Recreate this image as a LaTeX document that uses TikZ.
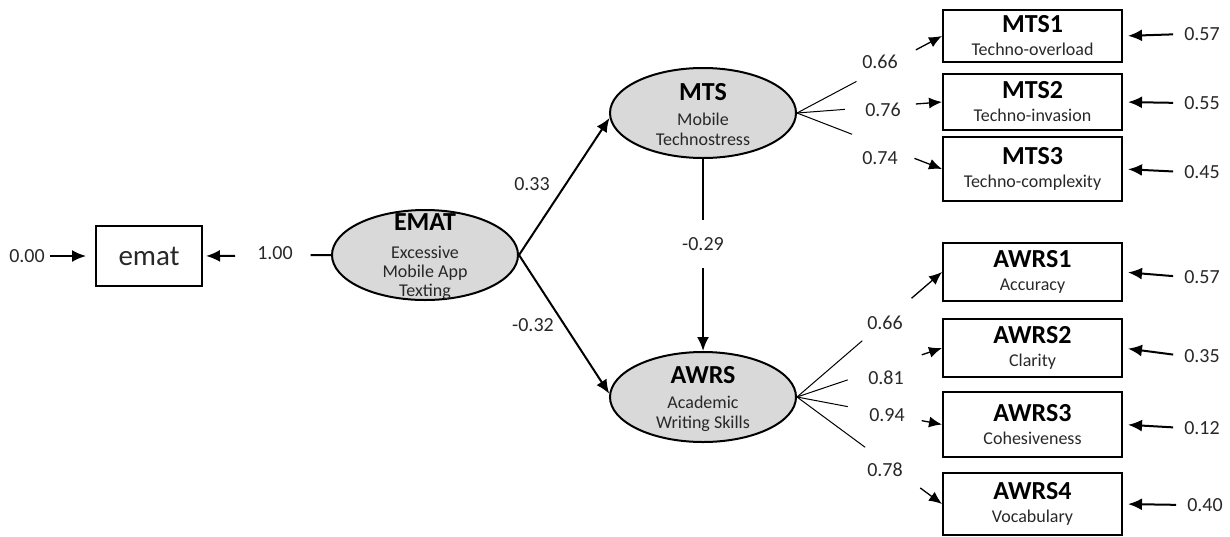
\documentclass[tikz,border=0pt]{standalone}
\usepackage{fontspec}
\setmainfont{Carlito}
\usetikzlibrary{arrows.meta,shapes.geometric}
\definecolor{txt}{RGB}{40,40,40}
\definecolor{ellfill}{RGB}{217,217,217}
\tikzset{
  num/.style={font=\fontsize{20}{20}\selectfont, text=txt, inner sep=0pt},
  lat/.style={ellipse, draw, line width=2pt, fill=ellfill, minimum width=186pt, minimum height=90pt, inner sep=0pt},
  lattext/.style={align=center, inner sep=0pt, text=txt},
  ind/.style={draw, line width=2pt, minimum width=179pt, inner sep=0pt, align=center, text=txt, font=\fontsize{18}{23}\selectfont},
  pth/.style={line width=2pt, -{Latex[length=14pt,width=12pt]}},
  load/.style={line width=1pt},
  loadarr/.style={line width=1.3pt, -{Latex[length=13pt,width=11pt]}},
  err/.style={line width=2pt, -{Latex[length=14pt,width=12pt]}, shorten <=11pt, shorten >=5pt},
}
\newcommand\ttl[1]{{\fontsize{26}{26}\selectfont\bfseries\color{black}#1}}
\newcommand\sbt[1]{{\fontsize{18}{18}\selectfont #1}}
\begin{document}
\begin{tikzpicture}[x=1pt,y=-1pt]
\useasboundingbox (0,0) rectangle (1230,536);

% observed EMAT indicator
\node[draw, line width=2pt, minimum width=106pt, minimum height=60pt, inner sep=0pt,
      font=\fontsize{29}{29}\selectfont, text=txt] (emat) at (149,256) {emat};
\node[num] (z0) at (27,256) {0.00};
\draw[pth, shorten <=5pt, shorten >=9pt] (z0.east) -- (emat.west);

% latent variables
\node[lat] (EMAT) at (425,255) {};
\node[lattext, font=\fontsize{18}{19}\selectfont] (EMATt) at (425,257) {\ttl{EMAT}\\[9pt]Excessive\\Mobile App\\Texting};
\node[lat] (MTS) at (703,113) {};
\node[lattext, font=\fontsize{18}{20}\selectfont] (MTSt) at (703,115) {\ttl{MTS}\\[5pt]Mobile\\Technostress};
\node[lat] (AWRS) at (703,397) {};
\node[lattext, font=\fontsize{18}{20}\selectfont] (AWRSt) at (703,399) {\ttl{AWRS}\\[5pt]Academic\\Writing Skills};

% EMAT -> emat
\node[num] (l100) at (275,253) {1.00};
\path (EMAT.west) -- (emat.east) coordinate[pos=0.16] (ea) coordinate[pos=0.75] (eb);
\draw[line width=2pt] (EMAT.west) -- (ea);
\draw[pth, shorten >=3pt] (eb) -- (emat.east);

% structural paths
\draw[pth] (EMAT.east) -- (MTS.183);
\draw[pth] (EMAT.east) -- (AWRS.178);
\node[num] (l033) at (532,184) {0.33};
\node[num] (l032) at (533,325) {-0.32};
\node[num, minimum height=48pt] (l029) at (703,244) {-0.29};
\draw[line width=2pt] (MTS.south) -- (l029.north);
\draw[pth] (l029.south) -- (AWRS.north);

% indicators
\node[ind, minimum height=52pt] (MTS1) at (1032.5,36) {\ttl{MTS1}\\\sbt{Techno-overload}};
\node[ind, minimum height=56pt] (MTS2) at (1032.5,102) {\ttl{MTS2}\\\sbt{Techno-invasion}};
\node[ind, minimum height=64pt] (MTS3) at (1032.5,169) {\ttl{MTS3}\\\sbt{Techno-complexity}};
\node[ind, minimum height=58pt] (AWRS1) at (1032.5,272) {\ttl{AWRS1}\\\sbt{Accuracy}};
\node[ind, minimum height=58pt] (AWRS2) at (1032.5,348) {\ttl{AWRS2}\\\sbt{Clarity}};
\node[ind, minimum height=65pt] (AWRS3) at (1032.5,424.5) {\ttl{AWRS3}\\\sbt{Cohesiveness}};
\node[ind, minimum height=62pt] (AWRS4) at (1032.5,504) {\ttl{AWRS4}\\\sbt{Vocabulary}};

% loadings MTS
\path (MTS.east) -- (MTS1.west) coordinate[pos=0.41] (m1a) coordinate[pos=0.82] (m1b);
\path (MTS.east) -- (MTS2.west) coordinate[pos=0.33] (m2a) coordinate[pos=0.82] (m2b);
\path (MTS.east) -- (MTS3.west) coordinate[pos=0.38] (m3a) coordinate[pos=0.81] (m3b);
\draw[load] (MTS.east) -- (m1a);
\draw[load] (MTS.east) -- (m2a);
\draw[load] (MTS.east) -- (m3a);
\draw[loadarr] (m1b) -- (MTS1.west);
\draw[loadarr] (m2b) -- (MTS2.west);
\draw[loadarr] (m3b) -- (MTS3.west);
\node[num] (lm1) at (880,62) {0.66};
\node[num] (lm2) at (883,110) {0.76};
\node[num] (lm3) at (880,158) {0.74};

% loadings AWRS
\path (AWRS.east) -- (AWRS1.west) coordinate[pos=0.45] (a1a) coordinate[pos=0.79] (a1b);
\path (AWRS.east) -- (AWRS2.west) coordinate[pos=0.35] (a2a) coordinate[pos=0.86] (a2b);
\path (AWRS.east) -- (AWRS3.west) coordinate[pos=0.35] (a3a) coordinate[pos=0.86] (a3b);
\path (AWRS.east) -- (AWRS4.west) coordinate[pos=0.47] (a4a) coordinate[pos=0.85] (a4b);
\draw[load] (AWRS.east) -- (a1a);
\draw[load] (AWRS.east) -- (a2a);
\draw[load] (AWRS.east) -- (a3a);
\draw[load] (AWRS.east) -- (a4a);
\draw[loadarr] (a1b) -- (AWRS1.west);
\draw[loadarr] (a2b) -- (AWRS2.west);
\draw[loadarr] (a3b) -- (AWRS3.west);
\draw[loadarr] (a4b) -- (AWRS4.west);
\node[num] (la1) at (885,323) {0.66};
\node[num] (la2) at (886,378) {0.81};
\node[num] (la3) at (887,415) {0.94};
\node[num] (la4) at (885,470) {0.78};

% error terms
\node[num] (e1) at (1202,34) {0.57};
\node[num] (e2) at (1202,103) {0.55};
\node[num] (e3) at (1202,172) {0.45};
\node[num] (e4) at (1202,277) {0.57};
\node[num] (e5) at (1202,356) {0.35};
\node[num] (e6) at (1202,428) {0.12};
\node[num] (e7) at (1205,505) {0.40};
\draw[err] (e1.west) -- (MTS1.east);
\draw[err] (e2.west) -- (MTS2.east);
\draw[err] (e3.west) -- (MTS3.east);
\draw[err] (e4.west) -- (AWRS1.east);
\draw[err] (e5.west) -- (AWRS2.east);
\draw[err] (e6.west) -- (AWRS3.east);
\draw[err] (e7.west) -- (AWRS4.east);
\end{tikzpicture}
\end{document}
